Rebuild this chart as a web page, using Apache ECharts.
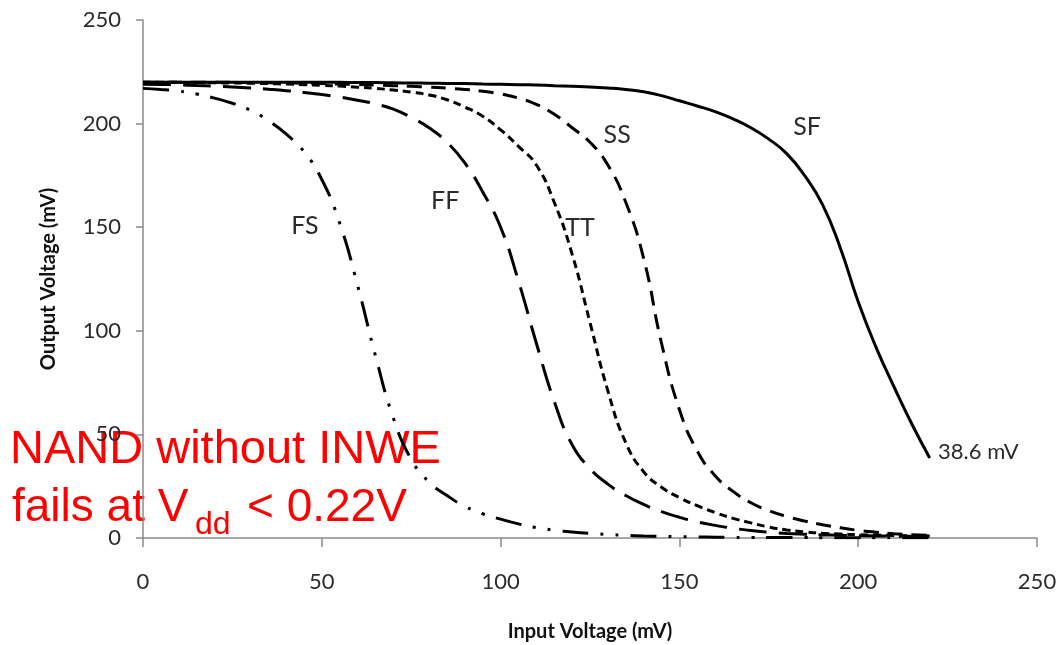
<!DOCTYPE html>
<html>
<head>
<meta charset="utf-8">
<script src="https://cdn.jsdelivr.net/npm/echarts@6/dist/echarts.min.js"></script>
<style>
  html, body { margin: 0; padding: 0; background: #fff; }
  #main { width: 1058px; height: 645px; }
</style>
</head>
<body>
<div id="main"></div>
<script>
// input voltage (mV), one sample every 5 mV
const inputMv = [0, 5, 10, 15, 20, 25, 30, 35, 40, 45, 50, 55, 60, 65, 70, 75, 80, 85, 90, 95,
  100, 105, 110, 115, 120, 125, 130, 135, 140, 145, 150, 155, 160, 165, 170, 175, 180, 185, 190, 195,
  200, 205, 210, 215, 220];

// output voltage (mV) for each process corner
const sfOut = [220, 220, 220, 220, 220, 220, 220, 220, 220, 220, 219.9, 219.9, 219.8, 219.8, 219.7, 219.6, 219.5, 219.4, 219.3, 219.1,
  219, 218.8, 218.6, 218.3, 218, 217.7, 217.2, 216.5, 215.4, 213.5, 211, 208.5, 205.8, 202.3, 198, 192.5, 185.5, 175, 161, 140,
  114, 92, 73, 55, 38.6];
const ssOut = [220, 220, 220, 220, 219.9, 219.9, 219.8, 219.7, 219.6, 219.5, 219.3, 219.1, 218.9, 218.6, 218.3, 218, 217.6, 217.1, 216.5, 215.6,
  214.3, 212.3, 209.3, 204.5, 198, 191, 180, 162, 135, 94, 62, 42, 30, 22.5, 17, 13.2, 10.4, 8.2, 6.4, 4.9,
  3.7, 2.8, 2.1, 1.6, 1.3];
const ttOut = [220, 220, 219.9, 219.8, 219.7, 219.6, 219.5, 219.3, 219.1, 218.8, 218.5, 218.1, 217.6, 217, 216.2, 215.2, 213.8, 211.5, 208, 203.5,
  197, 189, 180, 162, 137, 104, 71, 46, 32, 24.5, 19.5, 15.6, 12.3, 9.5, 7.3, 5.3, 3.9, 3, 2.3, 1.9,
  1.6, 1.4, 1.2, 1.1, 1];
const ffOut = [219, 218.9, 218.7, 218.4, 218.1, 217.7, 217.2, 216.6, 215.9, 215, 214, 212.8, 211.3, 209.5, 207, 203, 198, 191, 181, 167,
  150, 124, 94, 66, 45, 33.5, 26, 20.5, 16.2, 12.7, 10, 7.8, 6.1, 4.7, 3.6, 2.8, 2.2, 1.8, 1.5, 1.3,
  1.1, 1, 0.9, 0.8, 0.8];
const fsOut = [217, 216.5, 215.7, 214.3, 212.3, 209.8, 206.5, 201.5, 195, 186.5, 173, 152, 122, 88, 58, 38, 27, 20.5, 15.3, 11.7,
  9.1, 6.8, 5, 3.8, 2.9, 2.2, 1.7, 1.3, 1, 0.8, 0.6, 0.5, 0.4, 0.3, 0.3, 0.2, 0.2, 0.2, 0.1, 0.1,
  0.1, 0.1, 0.1, 0.1, 0.1];

const axisTicks = [0, 50, 100, 150, 200, 250];

// where each curve's name is written, in data units
const cornerNames = ['SF', 'SS', 'TT', 'FF', 'FS'];
const nameSpots = [[185.7, 198.4], [132.6, 194.5], [122.2, 149.6], [84.5, 162.6], [45.3, 150.6]];
const endNote = '38.6 mV';
const endNoteSpot = [233.6, 41.5];

const chart = echarts.init(document.getElementById('main'));

function pairs(ys) {
  return inputMv.map((x, i) => [x, ys[i]]);
}

const curves = [sfOut, ssOut, ttOut, ffOut, fsOut];
const dashes = ['solid', [15, 9], [8, 5], [28, 12], [26, 12, 3, 12, 3, 12]];

const textColor = '#2b2b2b';
const tickFont = 'Lato, "Open Sans", sans-serif';

const series = curves.map((ys, i) => {
  const marks = [{ coord: nameSpots[i], value: cornerNames[i], label: { formatter: cornerNames[i] } }];
  if (i === 0) {
    marks.push({ coord: endNoteSpot, value: endNote, label: { formatter: endNote, fontSize: 22 } });
  }
  return {
    name: cornerNames[i],
    type: 'line',
    data: pairs(ys),
    smooth: 0.5,
    showSymbol: false,
    symbol: 'none',
    lineStyle: { color: '#000', width: 3, type: dashes[i] },
    markPoint: {
      symbol: 'circle',
      symbolSize: 0,
      silent: true,
      label: {
        show: true,
        position: 'inside',
        color: textColor,
        fontFamily: tickFont,
        fontSize: 25
      },
      data: marks
    }
  };
});

chart.setOption({
  animation: false,
  backgroundColor: '#fff',
  grid: { left: 143, right: 21, top: 20, bottom: 107, outerBoundsMode: 'none', containLabel: false },
  xAxis: {
    type: 'value',
    min: 0,
    max: 250,
    interval: 50,
    name: 'Input Voltage (mV)',
    nameLocation: 'middle',
    nameGap: 84,
    nameTextStyle: { color: '#111', fontFamily: tickFont, fontWeight: 'bold', fontSize: 20 },
    axisLine: { show: true, lineStyle: { color: '#8a8a8a', width: 1.5 } },
    axisTick: { show: true, length: 9, lineStyle: { color: '#8a8a8a', width: 1.5 } },
    axisLabel: {
      color: textColor, fontFamily: tickFont, fontSize: 22, margin: 33,
      formatter: v => axisTicks.includes(v) ? String(v) : ''
    },
    splitLine: { show: false }
  },
  yAxis: {
    type: 'value',
    min: 0,
    max: 250,
    interval: 50,
    name: 'Output Voltage (mV)',
    nameLocation: 'middle',
    nameGap: 84,
    nameRotate: 90,
    nameTextStyle: { color: '#111', fontFamily: tickFont, fontWeight: 'bold', fontSize: 20 },
    axisLine: { show: true, lineStyle: { color: '#8a8a8a', width: 1.5 } },
    axisTick: { show: true, length: 7, lineStyle: { color: '#8a8a8a', width: 1.5 } },
    axisLabel: {
      color: textColor, fontFamily: tickFont, fontSize: 22, margin: 22,
      formatter: v => axisTicks.includes(v) ? String(v) : ''
    },
    splitLine: { show: false }
  },
  series: series,
  graphic: [
    {
      type: 'group',
      z: 100,
      children: [
        {
          type: 'text', left: 10, top: 427,
          style: { text: 'NAND without INWE', fill: '#ff0000', font: '47px "Liberation Sans", Arial, sans-serif' }
        },
        {
          type: 'text', left: 12, top: 485,
          style: { text: 'fails at V', fill: '#ff0000', font: '46px "Liberation Sans", Arial, sans-serif' }
        },
        {
          type: 'text', left: 195, top: 509,
          style: { text: 'dd', fill: '#ff0000', font: '32px "Liberation Sans", Arial, sans-serif' }
        },
        {
          type: 'text', left: 247, top: 485,
          style: { text: '< 0.22V', fill: '#ff0000', font: '46px "Liberation Sans", Arial, sans-serif' }
        }
      ]
    }
  ]
});

window.addEventListener('resize', () => {
  chart.resize();
});
</script>
</body>
</html>
